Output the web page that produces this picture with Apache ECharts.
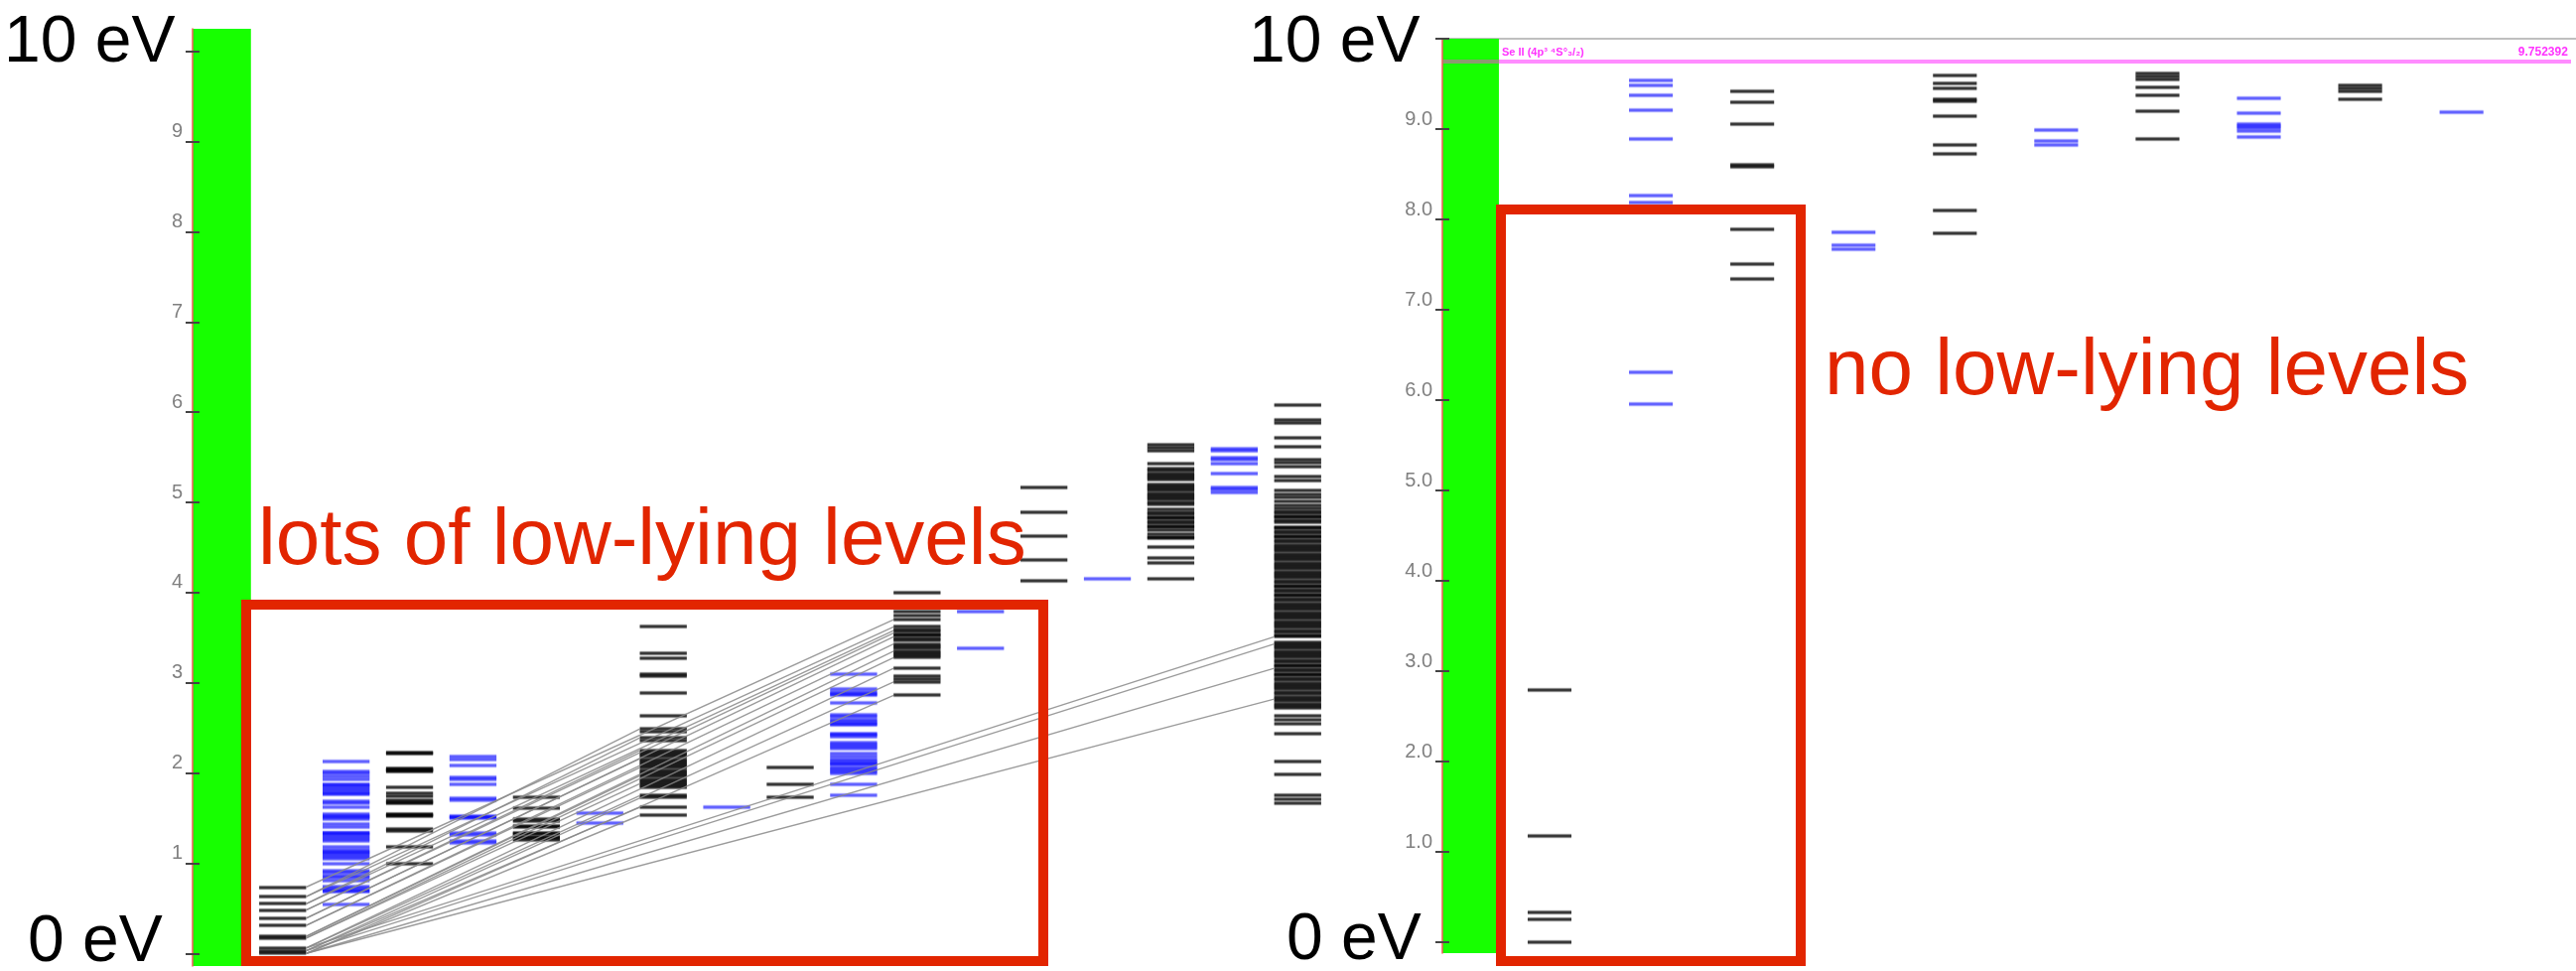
<!DOCTYPE html>
<html>
<head>
<meta charset="utf-8">
<script src="https://cdn.jsdelivr.net/npm/echarts@6/dist/echarts.min.js"></script>
<style>html,body{margin:0;padding:0;background:#fff}#chart{width:2595px;height:978px}</style>
</head>
<body>
<div id="chart"></div>
<script>
// ---------------- DATA (energies in eV) ----------------
// Left diagram: 17 term columns, alternating parity (black / blue)
const leftParity = ['k','b','k','b','k','b','k','b','k','b','k','b','k','b','k','b','k'];
const leftCol00 = [0.00, 0.03, 0.06, 0.17, 0.19, 0.31, 0.39, 0.48, 0.55, 0.63, 0.735];
const leftCol01 = [0.545, 0.68, 0.70, 0.72, 0.74, 0.81, 0.84, 0.86, 0.89, 0.92, 0.99, 1.05, 1.07, 1.09, 1.11, 1.13, 1.15, 1.18, 1.25, 1.27, 1.29, 1.31, 1.33, 1.34, 1.40, 1.43, 1.49, 1.51, 1.52, 1.54, 1.62, 1.66, 1.69, 1.76, 1.78, 1.80, 1.82, 1.84, 1.86, 1.875, 1.93, 1.96, 1.99, 2.02, 2.125];
const leftCol02 = [0.99, 1.18, 1.36, 1.38, 1.52, 1.53, 1.54, 1.66, 1.68, 1.70, 1.74, 1.77, 1.84, 2.02, 2.03, 2.04, 2.05, 2.21, 2.23];
const leftCol03 = [1.23, 1.25, 1.31, 1.34, 1.50, 1.51, 1.52, 1.70, 1.72, 1.875, 1.93, 1.95, 2.08, 2.15, 2.18];
const leftCol04 = [1.26, 1.275, 1.29, 1.32, 1.34, 1.40, 1.415, 1.47, 1.49, 1.61, 1.73];
const leftCol05 = [1.45, 1.56];
const leftCol06 = [1.53, 1.62, 1.73, 1.75, 1.84, 1.86, 1.88, 1.91, 1.93, 1.96, 1.98, 2.01, 2.03, 2.06, 2.08, 2.11, 2.13, 2.15, 2.18, 2.20, 2.23, 2.25, 2.36, 2.39, 2.46, 2.49, 2.63, 2.89, 3.07, 3.10, 3.27, 3.33, 3.62];
const leftCol07 = [1.62];
const leftCol08 = [1.73, 1.87, 2.06];
const leftCol09 = [1.75, 1.87, 2.00, 2.02, 2.04, 2.06, 2.09, 2.11, 2.13, 2.15, 2.18, 2.21, 2.27, 2.29, 2.31, 2.34, 2.40, 2.42, 2.44, 2.53, 2.55, 2.57, 2.59, 2.62, 2.65, 2.78, 2.86, 2.88, 2.90, 2.93, 3.10];
const leftCol10 = [2.86, 3.01, 3.04, 3.07, 3.16, 3.28, 3.30, 3.33, 3.35, 3.38, 3.40, 3.43, 3.47, 3.49, 3.52, 3.54, 3.57, 3.59, 3.62, 3.70, 3.74, 3.79, 3.89, 4.00];
const leftCol11 = [3.38, 3.79];
const leftCol12 = [4.13, 4.36, 4.63, 4.89, 5.16];
const leftCol13 = [4.15];
const leftCol14 = [4.15, 4.33, 4.38, 4.50, 4.60, 4.62, 4.65, 4.69, 4.72, 4.74, 4.77, 4.79, 4.82, 4.84, 4.87, 4.89, 4.92, 4.98, 5.00, 5.03, 5.05, 5.08, 5.10, 5.13, 5.15, 5.18, 5.20, 5.25, 5.27, 5.30, 5.32, 5.35, 5.37, 5.43, 5.57, 5.60, 5.64];
const leftCol15 = [5.11, 5.14, 5.17, 5.32, 5.43, 5.47, 5.49, 5.57, 5.59];
const leftCol16 = [1.67, 1.71, 1.75, 1.98, 2.13, 2.44, 2.55, 2.59, 2.63, 2.72, 2.74, 2.77, 2.80, 2.82, 2.84,
  2.88, 2.90, 2.93, 2.95, 2.98, 3.00, 3.03, 3.05, 3.08, 3.10, 3.13, 3.15, 3.18, 3.20, 3.23, 3.25, 3.28, 3.30, 3.33, 3.35, 3.38, 3.40, 3.43, 3.45,
  3.51, 3.53, 3.56, 3.58, 3.61, 3.63, 3.66, 3.68, 3.71, 3.73, 3.76, 3.78, 3.81, 3.83, 3.86, 3.88, 3.91, 3.93, 3.96, 3.98, 4.01, 4.03, 4.06, 4.08,
  4.11, 4.13, 4.16, 4.18, 4.21, 4.23, 4.26, 4.28, 4.31, 4.33, 4.36, 4.38, 4.41, 4.43, 4.46, 4.48, 4.51, 4.53, 4.56, 4.58, 4.61, 4.63, 4.66, 4.68, 4.71, 4.73,
  4.78, 4.80, 4.83, 4.85, 4.88, 4.90, 4.93, 4.97, 5.01, 5.05, 5.09, 5.13, 5.24, 5.29, 5.40, 5.44, 5.47, 5.62, 5.72, 5.88, 5.91, 6.08];
const leftColumns = [leftCol00, leftCol01, leftCol02, leftCol03, leftCol04, leftCol05, leftCol06, leftCol07, leftCol08, leftCol09, leftCol10, leftCol11, leftCol12, leftCol13, leftCol14, leftCol15, leftCol16];
// transitions: [fromColumn, fromEnergy, toColumn, toEnergy]
const leftTransitions = [
  [0,0.00,6,1.53],[0,0.03,6,1.62],[0,0.06,6,1.75],[0,0.17,6,1.88],[0,0.19,6,1.97],
  [0,0.31,6,2.06],[0,0.39,6,2.16],[0,0.48,6,2.25],[0,0.55,6,2.39],[0,0.63,6,2.49],
  [0,0.00,10,2.86],[0,0.03,10,3.01],[0,0.06,10,3.16],[0,0.17,10,3.28],[0,0.19,10,3.35],
  [0,0.31,10,3.43],[0,0.39,10,3.51],[0,0.48,10,3.55],[0,0.55,10,3.58],[0,0.63,10,3.62],[0,0.735,10,3.70],
  [0,0.00,16,2.82],[0,0.00,16,3.16],[0,0.03,16,3.43],[0,0.06,16,3.51]
];
const leftTicks = [0,1,2,3,4,5,6,7,8,9,10];
const leftTickLabels = [1,2,3,4,5,6,7,8,9];

// Right diagram (Se I): 10 term columns
const rightParity = ['k','b','k','b','k','b','k','b','k','b'];
const rightCol0 = [0.00, 0.25, 0.33, 1.18, 2.79];
const rightCol1 = [5.96, 6.31, 8.19, 8.26, 8.89, 9.21, 9.37, 9.48, 9.54];
const rightCol2 = [7.34, 7.51, 7.89, 8.58, 8.61, 9.06, 9.30, 9.42];
const rightCol3 = [7.67, 7.71, 7.86];
const rightCol4 = [7.85, 8.10, 8.72, 8.82, 9.14, 9.31, 9.33, 9.45, 9.51, 9.59];
const rightCol5 = [8.82, 8.87, 8.99];
const rightCol6 = [8.89, 9.20, 9.37, 9.46, 9.55, 9.58, 9.62];
const rightCol7 = [8.91, 8.98, 9.01, 9.03, 9.05, 9.18, 9.34];
const rightCol8 = [9.33, 9.42, 9.45, 9.48];
const rightCol9 = [9.19];
const rightColumns = [rightCol0, rightCol1, rightCol2, rightCol3, rightCol4, rightCol5, rightCol6, rightCol7, rightCol8, rightCol9];
const rightLimit = 9.752392;
const rightLimitName = 'Se II (4p³ ⁴S°₃/₂)';
const rightTicks = [0,1,2,3,4,5,6,7,8,9,10];
const rightTickLabels = [1,2,3,4,5,6,7,8,9];

// ---------------- LAYOUT / STYLE ----------------
const L = {xMin:-1.42, xMax:16.7, yMin:-0.14, yMax:10.25, barEdge:-0.5, half:0.37};
const R = {xMin:-1.058, xMax:10.13, yMin:-0.12, yMax:10.0, barEdge:-0.5, half:0.216};
const STYLE_K = {core: 'rgba(0,0,0,0.74)', halo: 'rgba(0,0,0,0.14)'};
const STYLE_B = {core: 'rgba(0,0,255,0.55)', halo: 'rgba(0,0,255,0.14)'};
const GREEN = '#17ff00';
const RED = '#e22500';
const FONT = '"Liberation Sans", Arial, Helvetica, sans-serif';

function points(cols, parity, which) {
  const out = [];
  cols.forEach((lv, i) => { if (parity[i] === which) lv.forEach(e => out.push([i, e])); });
  return out;
}

// each level: a short horizontal bar centred on its column, placed through the axes
function levelRenderer(half, st) {
  return function (params, api) {
    const a = api.coord([api.value(0) - half, api.value(1)]);
    const b = api.coord([api.value(0) + half, api.value(1)]);
    const y = Math.round(a[1]);
    return {type: 'group', children: [
      {type: 'rect', shape: {x: a[0], y: y - 2.5, width: b[0] - a[0], height: 5}, style: {fill: st.halo}},
      {type: 'rect', shape: {x: a[0], y: y - 1.5, width: b[0] - a[0], height: 3}, style: {fill: st.core}}
    ]};
  };
}

function yAxes(grid, cfg, ticks, labels, fmt) {
  return [
    {gridIndex: grid, type: 'value', min: cfg.yMin, max: cfg.yMax, position: 'left', z: 6,
     axisLine: {show: true, onZero: false, lineStyle: {color: '#f05a5a', width: 1.5}},
     axisTick: {show: true, customValues: ticks, length: 7, lineStyle: {color: '#444', width: 2}},
     axisLabel: {show: true, customValues: labels, formatter: fmt, color: '#808080', fontSize: 20,
                 fontFamily: FONT, verticalAlign: 'bottom', lineHeight: 20, margin: 10},
     splitLine: {show: false}},
    {gridIndex: grid, type: 'value', min: cfg.yMin, max: cfg.yMax, position: 'left', z: 6,
     axisLine: {show: false, onZero: false},
     axisTick: {show: true, inside: true, customValues: ticks, length: 7, lineStyle: {color: '#444', width: 2}},
     axisLabel: {show: false}, splitLine: {show: false}}
  ];
}

const chart = echarts.init(document.getElementById('chart'), null, {renderer: 'canvas'});

const labelCommon = {show: true, color: '#ff33ff', fontWeight: 'bold', fontFamily: FONT, distance: 3};

const option = {
  animation: false,
  backgroundColor: '#fff',
  grid: [
    {left: 194, top: 29, width: 1158, bottom: 5},
    {left: 1453, top: 39, right: 0, bottom: 18}
  ],
  xAxis: [
    {gridIndex: 0, type: 'value', min: L.xMin, max: L.xMax, show: false},
    {gridIndex: 1, type: 'value', min: R.xMin, max: R.xMax, show: false},
    {gridIndex: 1, type: 'value', min: R.xMin, max: R.xMax, position: 'top',
     axisLine: {show: true, onZero: false, lineStyle: {color: '#aaa', width: 1.5}},
     axisTick: {show: false}, axisLabel: {show: false}, splitLine: {show: false}}
  ],
  yAxis: [].concat(
    yAxes(0, L, leftTicks, leftTickLabels, v => String(v)),
    yAxes(1, R, rightTicks, rightTickLabels, v => v.toFixed(1))
  ),
  series: [
    // left panel
    {type: 'custom', xAxisIndex: 0, yAxisIndex: 0, silent: true, z: 2,
     renderItem: levelRenderer(L.half, STYLE_K), data: points(leftColumns, leftParity, 'k'),
     markArea: {silent: true, itemStyle: {color: GREEN, opacity: 1, borderWidth: 0}, label: {show: false},
       data: [[{coord: [L.xMin, L.yMin]}, {coord: [L.barEdge, L.yMax]}]]}},
    {type: 'custom', xAxisIndex: 0, yAxisIndex: 0, silent: true, z: 2,
     renderItem: levelRenderer(L.half, STYLE_B), data: points(leftColumns, leftParity, 'b')},
    {type: 'lines', coordinateSystem: 'cartesian2d', xAxisIndex: 0, yAxisIndex: 0, silent: true, z: 3,
     lineStyle: {color: '#8a8a8a', width: 1.4, opacity: 0.85},
     data: leftTransitions.map(t => ({coords: [[t[0] + L.half, t[1]], [t[2] - L.half, t[3]]]}))},
    // right panel
    {type: 'custom', xAxisIndex: 1, yAxisIndex: 2, silent: true, z: 2,
     renderItem: levelRenderer(R.half, STYLE_K), data: points(rightColumns, rightParity, 'k'),
     markArea: {silent: true, itemStyle: {color: GREEN, opacity: 1, borderWidth: 0}, label: {show: false},
       data: [[{coord: [R.xMin, R.yMin]}, {coord: [R.barEdge, R.yMax]}]]}},
    {type: 'custom', xAxisIndex: 1, yAxisIndex: 2, silent: true, z: 2,
     renderItem: levelRenderer(R.half, STYLE_B), data: points(rightColumns, rightParity, 'b'),
     markLine: {silent: true, symbol: 'none', animation: false,
       lineStyle: {type: 'solid', color: '#ff8cff', width: 4},
       data: [
         [{coord: [R.barEdge, rightLimit], label: Object.assign({position: 'insideStartTop', formatter: rightLimitName, fontSize: 11}, labelCommon)},
          {coord: [R.xMax - 0.05, rightLimit], label: Object.assign({position: 'insideStartTop', formatter: rightLimitName, fontSize: 11}, labelCommon)}],
         [{coord: [R.barEdge, rightLimit], label: Object.assign({position: 'insideEndTop', formatter: String(rightLimit), fontSize: 12}, labelCommon)},
          {coord: [R.xMax - 0.05, rightLimit], label: Object.assign({position: 'insideEndTop', formatter: String(rightLimit), fontSize: 12}, labelCommon)}],
         [{coord: [R.xMin, rightLimit], lineStyle: {color: '#8c9a70', width: 4}, label: {show: false}},
          {coord: [R.barEdge, rightLimit], lineStyle: {color: '#8c9a70', width: 4}, label: {show: false}}]
       ]}}
  ],
  graphic: [
    {type: 'text', left: 4, top: 11, z: 100, style: {text: '10 eV', font: '66px ' + FONT, fill: '#000'}},
    {type: 'text', left: 28, top: 917, z: 100, style: {text: '0 eV', font: '66px ' + FONT, fill: '#000'}},
    {type: 'text', left: 1258, top: 11, z: 100, style: {text: '10 eV', font: '66px ' + FONT, fill: '#000'}},
    {type: 'text', left: 1296, top: 915, z: 100, style: {text: '0 eV', font: '66px ' + FONT, fill: '#000'}},
    {type: 'text', left: 260, top: 506, z: 100, style: {text: 'lots of low-lying levels', font: '80px ' + FONT, fill: RED}},
    {type: 'text', left: 1838, top: 335, z: 100, style: {text: 'no low-lying levels', font: '80px ' + FONT, fill: RED}},
    {type: 'rect', z: 100, shape: {x: 248, y: 609, width: 803, height: 359}, style: {fill: 'none', stroke: RED, lineWidth: 10}},
    {type: 'rect', z: 100, shape: {x: 1512, y: 211, width: 302, height: 757}, style: {fill: 'none', stroke: RED, lineWidth: 10}}
  ]
};
chart.setOption(option);
</script>
</body>
</html>
